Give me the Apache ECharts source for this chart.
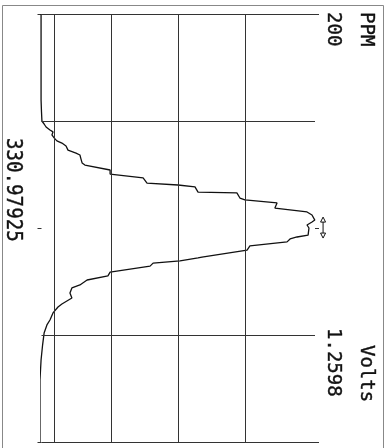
<!DOCTYPE html>
<html><head><meta charset="utf-8">
<script src="https://cdn.jsdelivr.net/npm/echarts@6/dist/echarts.min.js"></script>
<style>html,body{margin:0;padding:0;background:#fff}#c{width:392px;height:448px}</style>
</head><body><div id="c"></div>
<script>
// Offset from centre wavelength (PPM), top of plot = -100, bottom = +100
const ppm = [-100, -59.8, -54.2, -50.0, -48.6, -47.2, -45.8, -44.9, -43.5, -42.1, -40.7, -39.7, -38.3, -37.4, -36.4, -35.0, -34.1, -32.2, -30.4, -29.4, -27.1, -25.2, -23.4, -21.0, -20.1, -19.2, -16.8, -16.4, -14.0, -13.1, -11.7, -9.3, -7.5, -6.1, -3.7, -2.8, -1.4, 0, 0.9, 3.3, 4.2, 5.1, 6.5, 8.4, 10.3, 13.6, 14.0, 15.4, 16.4, 17.8, 20.6, 22.4, 24.3, 26.6, 28.0, 30.4, 32.7, 33.6, 35.5, 36.9, 39.7, 43.0, 45.3, 49.1, 54.7, 61.7, 71.0, 100];
// Signal (Volts)
const volts = [-0.002, -0.002, 0, 0.002, 0.012, 0.021, 0.039, 0.053, 0.048, 0.058, 0.071, 0.094, 0.113, 0.117, 0.122, 0.159, 0.177, 0.182, 0.187, 0.200, 0.316, 0.316, 0.468, 0.486, 0.629, 0.707, 0.721, 0.900, 0.914, 0.937, 1.085, 1.075, 1.223, 1.246, 1.259, 1.246, 1.223, 1.232, 1.237, 1.228, 1.177, 1.145, 1.131, 0.960, 0.947, 0.739, 0.721, 0.638, 0.514, 0.500, 0.316, 0.306, 0.210, 0.177, 0.140, 0.131, 0.140, 0.131, 0.094, 0.076, 0.053, 0.039, 0.025, 0.012, 0.005, -0.002, -0.007, -0.007];

const fullScaleVolts = 1.2598;
const voltGridLines = [0.058, 0.315, 0.630, 0.945, 1.2598];
const ppmGridLines = [-100, -50, 50, 100];
const markerVolts = 1.297;
const markerPpm = [-5.1, 4.7];

const spanUnit = 'PPM', spanValue = '200';
const voltsUnit = 'Volts', voltsValue = '1.2598';
const centreLabel = '330.97925';

const INK = '#111';

const chart = echarts.init(document.getElementById('c'), null, {renderer: 'canvas'});

const pairs = ppm.map((p, i) => [volts[i], p]);

const yAxisCommon = {
  type: 'value', min: -100, max: 100, interval: 100, inverse: true,
  axisLine: {show: false}, axisLabel: {show: false}, splitLine: {show: false},
  axisTick: {show: true, length: 4, lineStyle: {color: '#333', width: 1}}
};

chart.setOption({
  animation: false,
  backgroundColor: '#fff',
  grid: {left: 41.5, right: 77, top: 14, bottom: 6},
  xAxis: {type: 'value', min: 0, max: fullScaleVolts, show: false, splitLine: {show: false}},
  yAxis: [Object.assign({position: 'left'}, yAxisCommon), Object.assign({position: 'right'}, yAxisCommon)],
  series: [{
    type: 'line', data: pairs, showSymbol: false, symbol: 'none', clip: false,
    lineStyle: {color: INK, width: 1.3},
    markLine: {
      silent: true, symbol: 'none', label: {show: false},
      lineStyle: {color: '#333', width: 1, type: 'solid'},
      data: voltGridLines.map(v => ({xAxis: v})).concat(ppmGridLines.map(p => ({yAxis: p})))
    }
  }]
});

const pTop = chart.convertToPixel({gridIndex: 0}, [markerVolts, markerPpm[0]]);
const pBot = chart.convertToPixel({gridIndex: 0}, [markerVolts, markerPpm[1]]);
const ax = pTop[0], y1 = pTop[1], y2 = pBot[1];

function vtext(text, x, y, size, sx) {
  return {type: 'text', x: x, y: y, rotation: -Math.PI / 2, scaleX: sx || 1, scaleY: 1, silent: true,
    style: {text: text, font: size + 'px "DejaVu Sans Mono"', fill: INK, stroke: INK, lineWidth: 0.4,
      textAlign: 'left', align: 'left', textVerticalAlign: 'middle', verticalAlign: 'middle'}};
}

chart.setOption({
  graphic: [
    {type: 'rect', shape: {x: 2.5, y: 5.5, width: 381, height: 460}, style: {fill: 'none', stroke: '#888', lineWidth: 1}, silent: true},
    vtext(spanUnit, 366, 12, 20, 0.95),
    vtext(spanValue, 333, 12, 20, 0.95),
    vtext(voltsUnit, 366, 345, 20, 0.95),
    vtext(voltsValue, 333, 328, 20, 0.95),
    vtext(centreLabel, 13, 138, 22, 0.87),
    {type: 'line', shape: {x1: ax, y1: y1 + 4, x2: ax, y2: y2 - 4}, style: {stroke: INK, lineWidth: 1}, silent: true},
    {type: 'polygon', shape: {points: [[ax, y1], [ax - 2.5, y1 + 5], [ax + 2.5, y1 + 5]]}, style: {fill: '#fff', stroke: INK, lineWidth: 1}, silent: true},
    {type: 'polygon', shape: {points: [[ax, y2], [ax - 2.5, y2 - 5], [ax + 2.5, y2 - 5]]}, style: {fill: '#fff', stroke: INK, lineWidth: 1}, silent: true}
  ]
});
</script></body></html>
